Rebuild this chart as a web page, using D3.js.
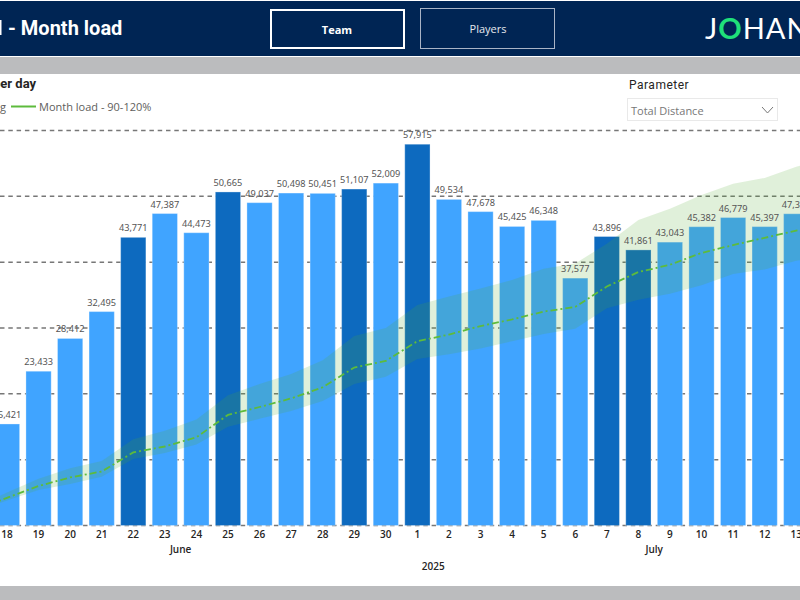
<!DOCTYPE html>
<html><head><meta charset="utf-8">
<script src="https://cdn.jsdelivr.net/npm/d3@7"></script>
<style>html,body{margin:0;padding:0;background:#fff;overflow:hidden}svg{display:block}text{font-family:"Open Sans",sans-serif}</style>
</head><body><svg id="c" width="800" height="600"></svg>
<script>
const days=["17","18","19","20","21","22","23","24","25","26","27","28","29","30","1","2","3","4","5","6","7","8","9","10","11","12","13","14"];
const months=["Jun","Jun","Jun","Jun","Jun","Jun","Jun","Jun","Jun","Jun","Jun","Jun","Jun","Jun","Jul","Jul","Jul","Jul","Jul","Jul","Jul","Jul","Jul","Jul","Jul","Jul","Jul","Jul"];
const values=[null,15421,23433,28412,32495,43771,47387,44473,50665,49037,50498,50451,51107,52009,57915,49534,47678,45425,46348,37577,43896,41861,43043,45382,46779,45397,47352,null];
const matchDays=["Jun 22","Jun 25","Jun 29","Jul 1","Jul 7","Jul 8"];
const load=[2400,4200,6000,7300,8200,11100,12000,13400,16800,18000,19300,21000,24000,25000,28000,29000,30300,31300,32500,33200,36300,38500,39600,41400,42600,43700,44800,45600];
const upper=[2900,5000,7100,8700,9800,13100,14400,16100,19800,21500,23000,25100,28800,30000,33500,34800,36000,37300,39000,39800,42800,46400,48100,50200,51900,52800,54500,55600];
const lower=[2100,3800,5400,6300,7400,10100,11000,12300,15000,16200,17400,18900,21500,22600,25300,26000,26900,28000,29100,29900,33000,34300,35200,36500,38200,38900,40200,41000];
const gridTicks=[0,10000,20000,30000,40000,50000,60000];
const groupLabels=[{t:"June",at:"Jun 23",dx:1},{t:"July",at:"Jul 8",dx:1},{t:"2025",at:"Jul 1",dx:1}];
const keys=days.map((d,i)=>months[i]+" "+d);
const svg=d3.select("#c");
const x=d3.scaleBand().domain(keys).range([-40.37,843.6]).paddingInner(.2).paddingOuter(.1);
const y=d3.scaleLinear().domain([0,60000]).range([525.5,130.5]);
const cx=k=>x(k)+x.bandwidth()/2;
const shown=keys.map((k,i)=>({k,d:days[i],v:values[i]})).filter(r=>r.v!==null);

// page furniture
svg.append("rect").attr("width",800).attr("height",600).attr("fill","#fff");
svg.append("rect").attr("y",1).attr("width",800).attr("height",55).attr("fill","#002554");
svg.append("rect").attr("y",57).attr("width",800).attr("height",17).attr("fill","#bbbcbe");
svg.append("rect").attr("y",586).attr("width",800).attr("height",14).attr("fill","#bbbcbe");
svg.append("text").attr("x",8).attr("y",35).attr("fill","#fff").attr("font-size",20).attr("font-weight",700).style("font-family","Roboto").text("- Month load");
svg.append("rect").attr("x",0).attr("y",20).attr("width",1.5).attr("height",15).attr("fill","#fff");
svg.append("rect").attr("x",271).attr("y",10).attr("width",133).attr("height",38).attr("fill","none").attr("stroke","#fff").attr("stroke-width",2);
svg.append("text").attr("x",337).attr("y",33.5).attr("text-anchor","middle").attr("fill","#fff").attr("font-size",11).attr("font-weight",700).text("Team");
svg.append("rect").attr("x",420.5).attr("y",8.5).attr("width",134).attr("height",40).attr("fill","none").attr("stroke","#a9b4c6").attr("stroke-width",1);
svg.append("text").attr("x",488).attr("y",33).attr("text-anchor","middle").attr("fill","#e4e8ee").attr("font-size",11).text("Players");
const logo=svg.append("text").attr("x",705).attr("y",38.5).attr("fill","#fff").attr("font-size",29).attr("letter-spacing",1).style("font-family","Lato").style("font-weight",400);
logo.append("tspan").text("J");
logo.append("tspan").attr("fill","#1fe07a").style("font-weight",700).text("O");
logo.append("tspan").text("HAN");

svg.append("text").attr("x",-7).attr("y",87.5).attr("fill","#252423").attr("font-size",13).attr("font-weight",700).style("font-family","Roboto").text("per day");
svg.append("text").attr("x",0).attr("y",111).attr("fill","#605e5c").attr("font-size",11).text("g");
svg.append("line").attr("x1",11).attr("x2",36).attr("y1",106.5).attr("y2",106.5).attr("stroke","#5dbb3c").attr("stroke-width",2);
svg.append("text").attr("x",39).attr("y",111).attr("fill","#605e5c").attr("font-size",11).text("Month load - 90-120%");
svg.append("text").attr("x",629).attr("y",89).attr("fill","#252423").attr("font-size",12).attr("letter-spacing",.5).style("font-family","Roboto").text("Parameter");
svg.append("rect").attr("x",627.5).attr("y",98.5).attr("width",150).attr("height",22).attr("fill","#fff").attr("stroke","#e9e9e9");
svg.append("text").attr("x",631).attr("y",115).attr("fill","#777").attr("font-size",11).text("Total Distance");
svg.append("path").attr("d","M762 107l5.5 6l5.5-6").attr("fill","none").attr("stroke","#777");

// grid
svg.append("g").selectAll("line").data(gridTicks).join("line").attr("x1",0).attr("x2",800)
  .attr("y1",d=>y(d)).attr("y2",d=>y(d)).attr("stroke","#777").attr("stroke-width",1.5).attr("stroke-dasharray","4.5 3.8");

// bars
svg.append("g").selectAll("rect").data(shown).join("rect")
  .attr("x",d=>x(d.k)).attr("width",x.bandwidth())
  .attr("y",d=>y(d.v)).attr("height",d=>y(0)-y(d.v))
  .attr("fill",d=>matchDays.includes(d.k)?"#0d6abf":"#40a4ff")
  .attr("stroke","#fff").attr("stroke-opacity",.3);

// band + line
const area=d3.area().x((d,i)=>cx(keys[i])).y0((d,i)=>y(lower[i])).y1(d=>y(d));
svg.append("path").datum(upper).attr("d",area).attr("fill","rgb(83,172,50)").attr("fill-opacity",.18);
const line=d3.line().x((d,i)=>cx(keys[i])).y(d=>y(d));
svg.append("path").datum(load).attr("d",line).attr("fill","none").attr("stroke","#5dbb3c").attr("stroke-width",1.8).attr("stroke-dasharray","7 3 2 3");

// data labels
const fmt=d3.format(",");
svg.append("g").selectAll("text").data(shown).join("text")
  .attr("x",d=>cx(d.k)).attr("y",d=>y(d.v)-6).attr("text-anchor","middle")
  .attr("fill","#555").attr("font-size",9.2).style("font-family","Noto Sans").text(d=>fmt(d.v));

// axis
const axis=d3.axisBottom(x).tickValues(shown.map(d=>d.k)).tickSize(0).tickPadding(5).tickFormat(k=>k.split(" ")[1]);
const ag=svg.append("g").attr("transform",`translate(0,${y(0)})`).call(axis);
ag.select(".domain").remove();
ag.selectAll("text").attr("fill","#252423").attr("font-size",10).attr("font-weight",600).style("font-family","Open Sans");
svg.append("g").selectAll("text").data(groupLabels).join("text")
  .attr("x",d=>cx(d.at)+d.dx*x.step()/2).attr("y",(d,i)=>i<2?553:570).attr("text-anchor","middle")
  .attr("fill","#252423").attr("font-size",10).attr("font-weight",600).text(d=>d.t);
</script></body></html>
